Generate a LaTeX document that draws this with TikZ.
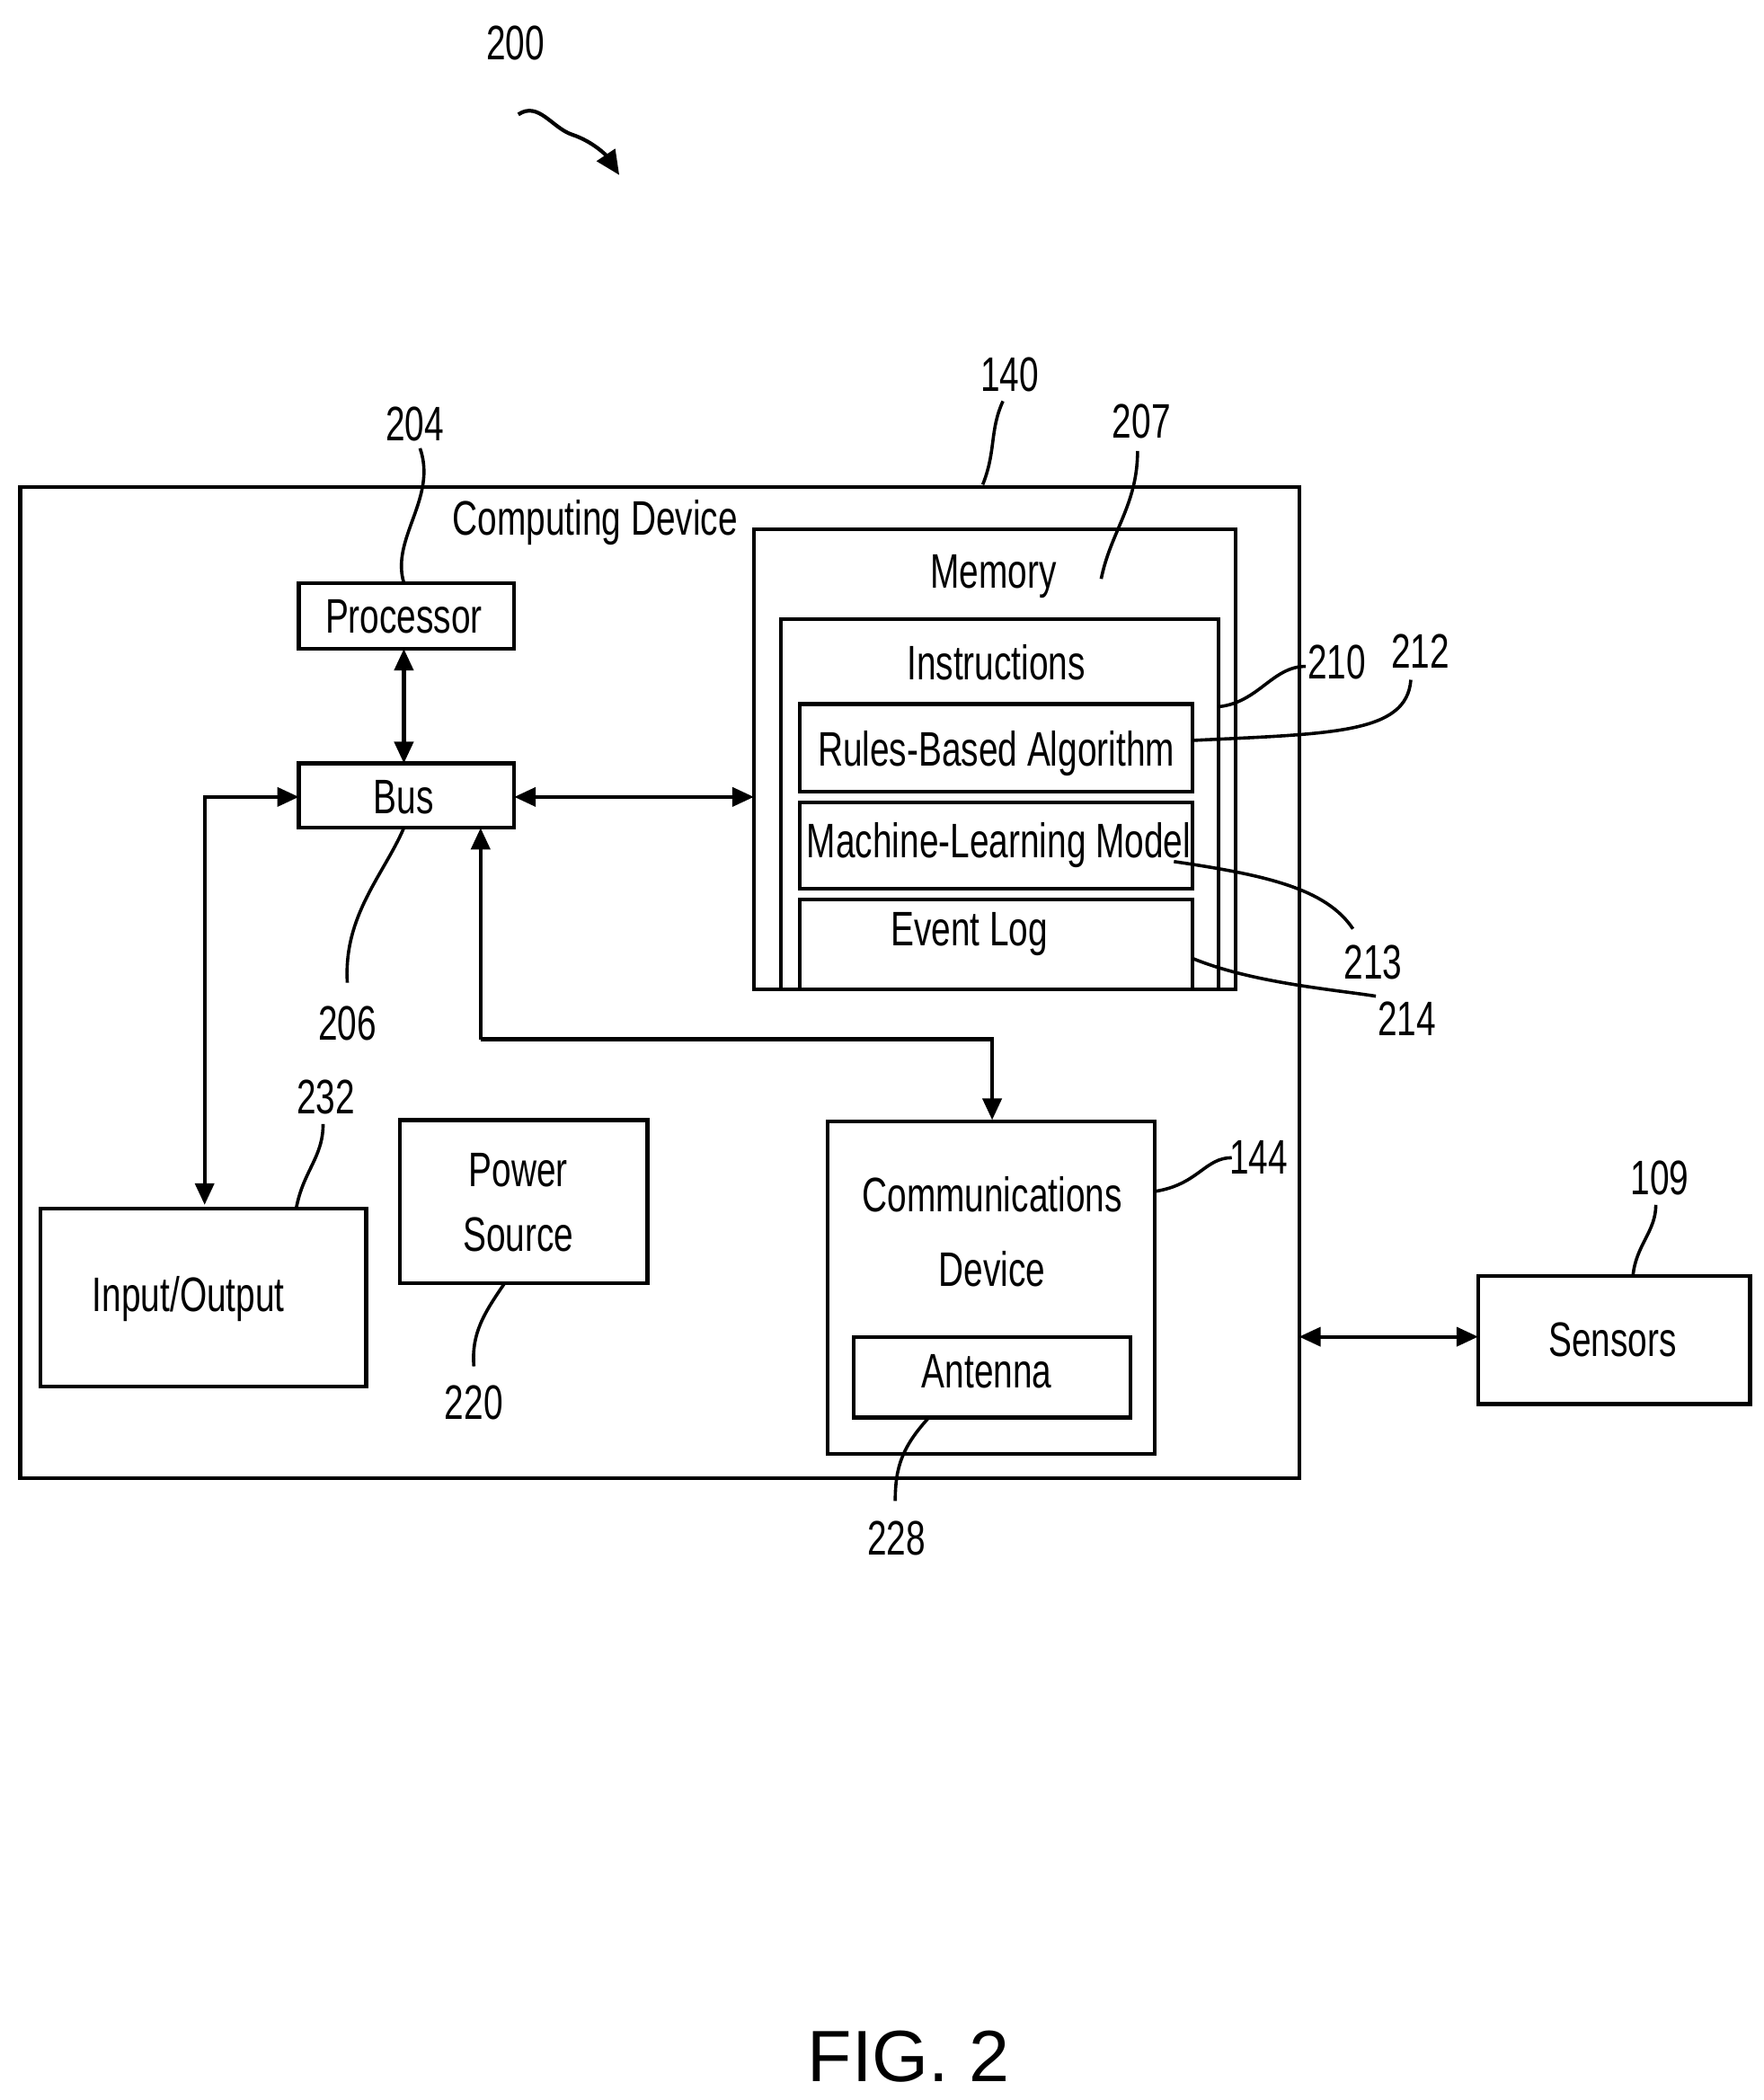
\documentclass[tikz,border=0pt]{standalone}
\usepackage{fontspec}
\setmainfont{Liberation Sans}[FakeStretch=0.72]
\newfontfamily\figfont{Liberation Sans}
\usetikzlibrary{arrows.meta}
\begin{document}
\begin{tikzpicture}[x=0.5pt,y=-0.5pt,
  box/.style={draw,line width=1.4pt},
  lbl/.style={font=\fontsize{18}{20}\selectfont,inner sep=0},
  lead/.style={line width=1.2pt},
  arr/.style={line width=1.4pt,{Triangle[length=8pt,width=7pt]}-{Triangle[length=8pt,width=7pt]}},
  sarr/.style={line width=1.4pt,-{Triangle[length=8pt,width=7pt]}}]
\useasboundingbox (0,0) rectangle (1310,1560);
% outer
\draw[box] (15,362) rectangle (965,1098);
\node[lbl] (cd) at (442,388) {Computing Device};
\node[lbl] (n140) at (750,278) {140};
\draw[lead] (730,360) .. controls (740,335) and (735,320) .. (745,298);
% processor / bus
\draw[box] (222,433) rectangle (382,482); \node[lbl] (proc) at (300,458) {Processor};
\node[lbl] (n204) at (308,315) {204};
\draw[lead] (300,433) .. controls (290,400) and (325,370) .. (312,333);
\draw[box] (222,567) rectangle (382,615); \node[lbl] (bus) at (300,592) {Bus};
\draw[arr] (300,482) -- (300,567);
\node[lbl] (n206) at (258,760) {206};
\draw[lead] (300,615) .. controls (285,650) and (255,680) .. (258,730);
% memory
\draw[box] (560,393) rectangle (918,735); \node[lbl] (mem) at (738,428) {Memory};
\node[lbl] (n207) at (848,313) {207};
\draw[lead] (818,430) .. controls (825,395) and (845,375) .. (845,335);
\draw[box] (580,460) rectangle (905,735); \node[lbl] (ins) at (740,492) {Instructions};
\node[lbl] (n210) at (993,492) {210};
\draw[lead] (905,525) .. controls (935,522) and (945,495) .. (970,495);
\draw[box] (594,523) rectangle (886,588); \node[lbl] (rba) at (740,560) {Rules-Based Algorithm};
\node[lbl] (n212) at (1055,484) {212};
\draw[lead] (886,550) .. controls (990,545) and (1045,545) .. (1048,505);
\draw[box] (594,596) rectangle (886,660); \node[lbl] (mlm) at (742,628) {Machine-Learning Model};
\node[lbl] (n213) at (1020,715) {213};
\draw[lead] (872,640) .. controls (940,650) and (985,660) .. (1005,690);
\draw[box] (594,668) rectangle (886,735); \node[lbl] (elog) at (720,694) {Event Log};
\node[lbl] (n214) at (1045,757) {214};
\draw[lead] (886,712) .. controls (930,730) and (990,735) .. (1022,740);
\draw[arr] (382,592) -- (560,592);
% IO
\draw[box] (30,898) rectangle (272,1030); \node[lbl] (io) at (140,965) {Input/Output};
\draw[arr] (222,592) -- (152,592) -- (152,895);
\node[lbl] (n232) at (242,815) {232};
\draw[lead] (220,898) .. controls (225,870) and (240,860) .. (240,835);
% power
\draw[box] (297,832) rectangle (481,953);
\node[lbl,align=center] (ps) at (385,893) {Power\\[4pt]Source};
\node[lbl] (n220) at (352,1042) {220};
\draw[lead] (375,953) .. controls (360,975) and (350,990) .. (352,1015);
% comms
\draw[box] (615,833) rectangle (858,1080);
\node[lbl,align=center] (comm) at (737,915) {Communications\\[8pt]Device};
\draw[box] (634,993) rectangle (840,1053); \node[lbl] (ant) at (733,1019) {Antenna};
\node[lbl] (n228) at (666,1143) {228};
\draw[lead] (690,1053) .. controls (670,1075) and (665,1090) .. (665,1115);
\node[lbl] (n144) at (935,860) {144};
\draw[lead] (858,885) .. controls (890,880) and (895,860) .. (915,860);
\draw[sarr] (357,772) -- (357,615);
\draw[sarr] (357,772) -- (737,772) -- (737,832);
% sensors
\draw[box] (1098,948) rectangle (1300,1043); \node[lbl] (sens) at (1198,995) {Sensors};
\node[lbl] (n109) at (1233,875) {109};
\draw[lead] (1213,948) .. controls (1215,925) and (1230,915) .. (1230,895);
\draw[arr] (965,993) -- (1098,993);
% 200
\node[lbl] (n200) at (383,32) {200};
\coordinate (a200) at (460,130);
\draw[line width=1.4pt,-{Triangle[length=9pt,width=8pt]}] (385,85) .. controls (400,75) and (410,95) .. (425,100) .. controls (440,105) and (450,115) .. (a200);
\node[font=\figfont\fontsize{27}{30}\selectfont,inner sep=0] (fig) at (675,1528) {FIG. 2};
\end{tikzpicture}
\end{document}
